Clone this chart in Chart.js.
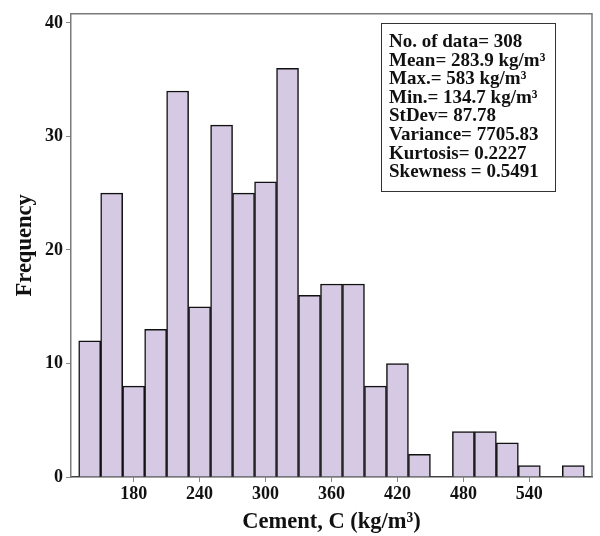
<!DOCTYPE html>
<html>
<head>
<meta charset="utf-8">
<script src="https://cdn.jsdelivr.net/npm/chart.js@4.4.0/dist/chart.umd.min.js"></script>
<style>
  html, body { margin: 0; padding: 0; background: #fff; }
  #wrap { width: 600px; height: 536px; }
</style>
</head>
<body>
<div id="wrap"><canvas id="histChart" width="600" height="536"></canvas></div>
<script>
// bin centres (kg/m3), bins are 20 wide starting at 130
var binCenters = [140, 160, 180, 200, 220, 240, 260, 280, 300, 320, 340, 360,
                  380, 400, 420, 440, 460, 480, 500, 520, 540, 560, 580];
var counts = [12, 25, 8, 13, 34, 15, 31, 25, 26, 36, 16, 17,
              17, 8, 10, 2, 0, 4, 4, 3, 1, 0, 1];
var xTicks = [180, 240, 300, 360, 420, 480, 540];
var yTicks = [0, 10, 20, 30, 40];
var statLines = [
    'No. of data= 308',
    'Mean= 283.9 kg/m\u00b3',
    'Max.= 583 kg/m\u00b3',
    'Min.= 134.7 kg/m\u00b3',
    'StDev= 87.78',
    'Variance= 7705.83',
    'Kurtosis= 0.2227',
    'Skewness = 0.5491'
];

var serif = '"Liberation Serif", "Times New Roman", serif';

// top/right frame lines and the statistics box
var extras = {
    id: 'extras',
    afterDraw: function (chart) {
        var c = chart.ctx, a = chart.chartArea;
        c.save();
        c.strokeStyle = '#7a7a7a';
        c.lineWidth = 1.5;
        c.beginPath();
        c.moveTo(a.left, a.top);
        c.lineTo(a.right, a.top);
        c.lineTo(a.right, a.bottom);
        c.stroke();

        c.strokeStyle = '#333';
        c.lineWidth = 1;
        c.strokeRect(381.5, 23.5, 174, 168);
        c.fillStyle = '#111';
        c.font = 'bold 19px ' + serif;
        c.textBaseline = 'alphabetic';
        for (var i = 0; i < statLines.length; i++) {
            c.fillText(statLines[i], 389, 47 + i * 18.6);
        }
        c.restore();
    }
};

var ctx = document.getElementById('histChart').getContext('2d');
var histChart = new Chart(ctx, {
    type: 'bar',
    data: {
        datasets: [{
            data: binCenters.map(function (x, i) { return { x: x, y: counts[i] }; }),
            backgroundColor: '#d5c9e3',
            borderColor: '#111',
            borderWidth: 1.5,
            barPercentage: 1,
            categoryPercentage: 1
        }]
    },
    options: {
        responsive: false,
        animation: false,
        layout: { padding: { top: 8, right: 8, left: 0, bottom: 0 } },
        plugins: { legend: { display: false }, tooltip: { enabled: false } },
        scales: {
            x: {
                type: 'linear',
                offset: false,
                min: 123,
                max: 597,
                afterBuildTicks: function (s) {
                    s.ticks = xTicks.map(function (v) { return { value: v }; });
                },
                afterFit: function (s) { s.height = 59; },
                grid: { drawOnChartArea: false, offset: false, tickLength: 5, color: '#888' },
                border: { color: '#444', width: 1.5 },
                ticks: {
                    color: '#111',
                    padding: 2,
                    maxRotation: 0,
                    font: { family: serif, size: 18, weight: 'bold' }
                },
                title: {
                    display: true,
                    text: 'Cement, C (kg/m\u00b3)',
                    color: '#111',
                    padding: { top: 2, bottom: 0 },
                    font: { family: serif, size: 22.5, weight: 'bold' }
                }
            },
            y: {
                min: 0,
                max: 40.8,
                afterBuildTicks: function (s) {
                    s.ticks = yTicks.map(function (v) { return { value: v }; });
                },
                afterFit: function (s) { s.width = 71; },
                grid: { drawOnChartArea: false, tickLength: 5, color: '#888' },
                border: { color: '#7a7a7a', width: 1.5 },
                ticks: {
                    color: '#111',
                    padding: 3,
                    font: { family: serif, size: 18, weight: 'bold' }
                },
                title: {
                    display: true,
                    text: 'Frequency',
                    color: '#111',
                    padding: { top: 12, bottom: 0 },
                    font: { family: serif, size: 22.5, weight: 'bold' }
                }
            }
        }
    },
    plugins: [extras]
});
</script>
</body>
</html>
